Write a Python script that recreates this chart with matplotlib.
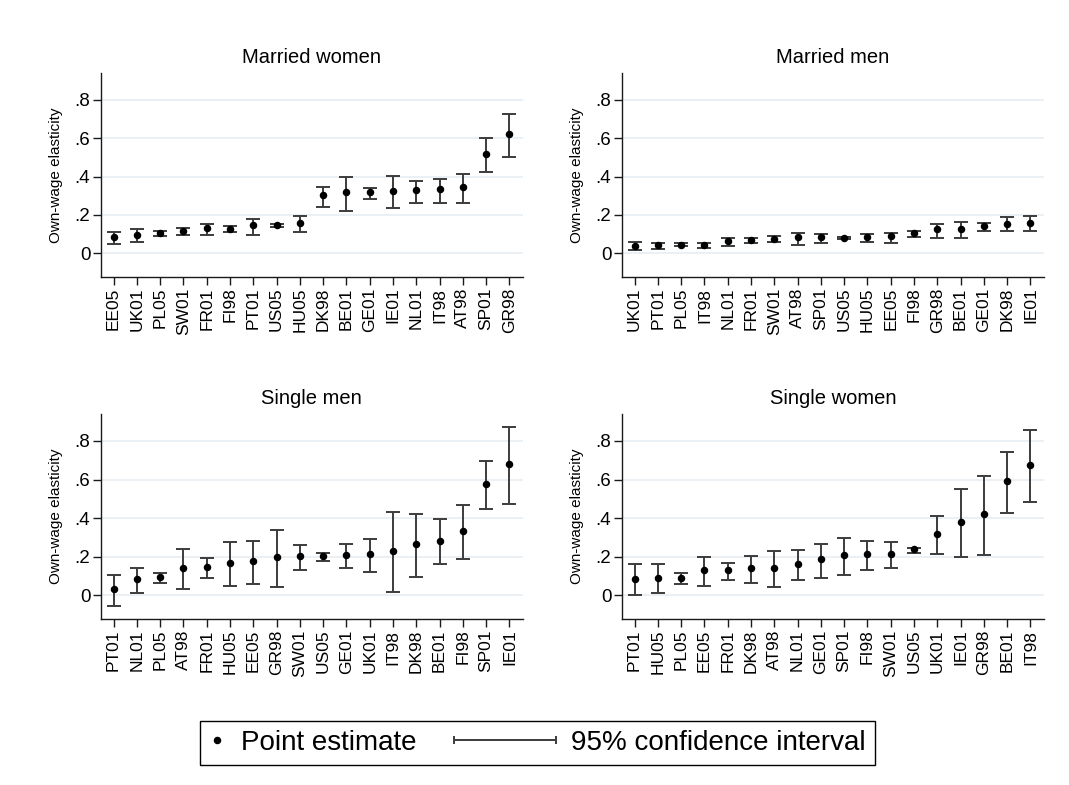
import matplotlib
matplotlib.use("Agg")
import matplotlib.pyplot as plt
from matplotlib.lines import Line2D
import numpy as np

plt.rcParams['font.family'] = ['Liberation Sans', 'DejaVu Sans']

# ---- data (point estimate, 95% CI low/high) ----
mw_title = "Married women"
mw_countries = ["EE05", "UK01", "PL05", "SW01", "FR01", "FI98", "PT01", "US05", "HU05",
                "DK98", "BE01", "GE01", "IE01", "NL01", "IT98", "AT98", "SP01", "GR98"]
mw_est = [0.087, 0.097, 0.107, 0.116, 0.130, 0.125, 0.146, 0.146, 0.160,
          0.302, 0.319, 0.319, 0.326, 0.330, 0.335, 0.344, 0.517, 0.623]
mw_lo = [0.047, 0.059, 0.092, 0.095, 0.095, 0.113, 0.097, 0.135, 0.109,
         0.243, 0.222, 0.281, 0.238, 0.264, 0.260, 0.260, 0.422, 0.503]
mw_hi = [0.113, 0.125, 0.115, 0.130, 0.151, 0.142, 0.179, 0.153, 0.194,
         0.347, 0.399, 0.338, 0.403, 0.378, 0.387, 0.413, 0.602, 0.727]

mm_title = "Married men"
mm_countries = ["UK01", "PT01", "PL05", "IT98", "NL01", "FR01", "SW01", "AT98", "SP01",
                "US05", "HU05", "EE05", "FI98", "GR98", "BE01", "GE01", "DK98", "IE01"]
mm_est = [0.040, 0.041, 0.045, 0.041, 0.066, 0.067, 0.074, 0.085, 0.085,
          0.082, 0.085, 0.090, 0.105, 0.125, 0.125, 0.142, 0.155, 0.160]
mm_lo = [0.016, 0.021, 0.038, 0.028, 0.040, 0.055, 0.057, 0.045, 0.055,
         0.074, 0.059, 0.055, 0.087, 0.080, 0.080, 0.116, 0.115, 0.118]
mm_hi = [0.057, 0.055, 0.052, 0.054, 0.081, 0.078, 0.090, 0.107, 0.102,
         0.087, 0.100, 0.107, 0.118, 0.153, 0.163, 0.158, 0.188, 0.196]

sm_title = "Single men"
sm_countries = ["PT01", "NL01", "PL05", "AT98", "FR01", "HU05", "EE05", "GR98", "SW01",
                "US05", "GE01", "UK01", "IT98", "DK98", "BE01", "FI98", "SP01", "IE01"]
sm_est = [0.031, 0.082, 0.094, 0.141, 0.146, 0.168, 0.175, 0.197, 0.203,
          0.203, 0.210, 0.213, 0.228, 0.264, 0.283, 0.331, 0.576, 0.679]
sm_lo = [-0.058, 0.010, 0.065, 0.031, 0.088, 0.048, 0.058, 0.041, 0.132,
         0.177, 0.139, 0.118, 0.014, 0.094, 0.163, 0.186, 0.448, 0.474]
sm_hi = [0.105, 0.143, 0.113, 0.240, 0.192, 0.278, 0.283, 0.338, 0.261,
         0.218, 0.268, 0.292, 0.433, 0.419, 0.397, 0.467, 0.694, 0.871]

sw_title = "Single women"
sw_countries = ["PT01", "HU05", "PL05", "EE05", "FR01", "DK98", "AT98", "NL01", "GE01",
                "SP01", "FI98", "SW01", "US05", "UK01", "IE01", "GR98", "BE01", "IT98"]
sw_est = [0.084, 0.089, 0.091, 0.129, 0.132, 0.139, 0.143, 0.163, 0.186,
          0.208, 0.213, 0.213, 0.240, 0.320, 0.380, 0.419, 0.593, 0.675]
sw_lo = [0.000, 0.010, 0.058, 0.048, 0.081, 0.062, 0.045, 0.077, 0.091,
         0.105, 0.132, 0.139, 0.220, 0.213, 0.199, 0.208, 0.429, 0.486]
sw_hi = [0.161, 0.161, 0.115, 0.199, 0.166, 0.203, 0.230, 0.234, 0.268,
         0.295, 0.282, 0.275, 0.247, 0.409, 0.550, 0.620, 0.744, 0.856]

ytick_values = [0, 0.2, 0.4, 0.6, 0.8]
ytick_labels = ["0", ".2", ".4", ".6", ".8"]
ylabel = "Own-wage elasticity"
legend_labels = ["Point estimate", "95% confidence interval"]

BAR_COLOR = "#3c3c3c"
GRID_COLOR = "#e6eef2"
AXIS_COLOR = "#1a1a1a"


class CIHandler:
    # horizontal range bar with end caps, drawn like Stata's rcap legend key
    def legend_artist(self, legend, orig_handle, fontsize, handlebox):
        x0, y0 = -handlebox.xdescent, -handlebox.ydescent
        w, h = handlebox.width, handlebox.height
        ym = y0 + h / 2
        right = x0 + w
        left = right - 3.67 * fontsize
        kw = dict(color=BAR_COLOR, lw=1.4, solid_capstyle='butt')
        arts = [Line2D([left, right], [ym, ym], **kw),
                Line2D([left, left], [ym - 0.22 * h, ym + 0.22 * h], **kw),
                Line2D([right, right], [ym - 0.22 * h, ym + 0.22 * h], **kw)]
        for a in arts:
            handlebox.add_artist(a)
        return arts[0]


def draw_panel(ax, title, countries, est, lo, hi):
    x = np.arange(len(countries))
    est = np.array(est)
    lo = np.array(lo)
    hi = np.array(hi)
    ax.errorbar(x, est, yerr=[est - lo, hi - est], fmt='none', ecolor=BAR_COLOR,
                elinewidth=1.4, capsize=4.7, capthick=1.4, zorder=3)
    ax.plot(x, est, 'o', color='black', markersize=4.4, zorder=4)

    ax.set_xlim(-0.55, len(countries) - 1 + 0.57)
    ax.set_ylim(-0.125, 0.94)
    ax.set_xticks(x)
    ax.set_xticklabels(countries, rotation=90, fontsize=12.5)
    ax.set_yticks(ytick_values)
    ax.set_yticklabels(ytick_labels, fontsize=13.5)
    ax.set_ylabel(ylabel, fontsize=11, labelpad=8)
    ax.set_title(title, fontsize=14.5, pad=7.5)

    ax.grid(axis='y', color=GRID_COLOR, lw=1.2, zorder=0)
    ax.set_axisbelow(True)
    for side in ['top', 'right']:
        ax.spines[side].set_visible(False)
    for side in ['left', 'bottom']:
        ax.spines[side].set_color(AXIS_COLOR)
        ax.spines[side].set_linewidth(1.0)
    ax.tick_params(axis='both', colors=AXIS_COLOR, length=6, width=1.0, pad=1.5,
                   labelcolor='black')


fig = plt.figure(figsize=(10.69, 7.85), dpi=100)
left1, left2, width = 0.0942, 0.5816, 0.3948
ax1 = fig.add_axes([left1, 0.6468, width, 0.2603])
ax2 = fig.add_axes([left2, 0.6468, width, 0.2603])
ax3 = fig.add_axes([left1, 0.2111, width, 0.2615])
ax4 = fig.add_axes([left2, 0.2111, width, 0.2615])

draw_panel(ax1, mw_title, mw_countries, mw_est, mw_lo, mw_hi)
draw_panel(ax2, mm_title, mm_countries, mm_est, mm_lo, mm_hi)
draw_panel(ax3, sm_title, sm_countries, sm_est, sm_lo, sm_hi)
draw_panel(ax4, sw_title, sw_countries, sw_est, sw_lo, sw_hi)

point_handle = Line2D([], [], ls='none', marker='o', color='black', markersize=4.4)
ci_handle = Line2D([], [], color=BAR_COLOR)
leg = fig.legend([point_handle, ci_handle], legend_labels,
                 handler_map={ci_handle: CIHandler()},
                 loc='upper left', bbox_to_anchor=(200 / 1069, 1 - 721 / 785), ncol=2,
                 fontsize=20, frameon=True, fancybox=False, framealpha=1,
                 edgecolor='black', handlelength=0.6, handletextpad=0.56,
                 columnspacing=4.4, borderpad=0.32, borderaxespad=0)
leg.get_frame().set_linewidth(1.0)

fig.savefig("out.png", dpi=100)
